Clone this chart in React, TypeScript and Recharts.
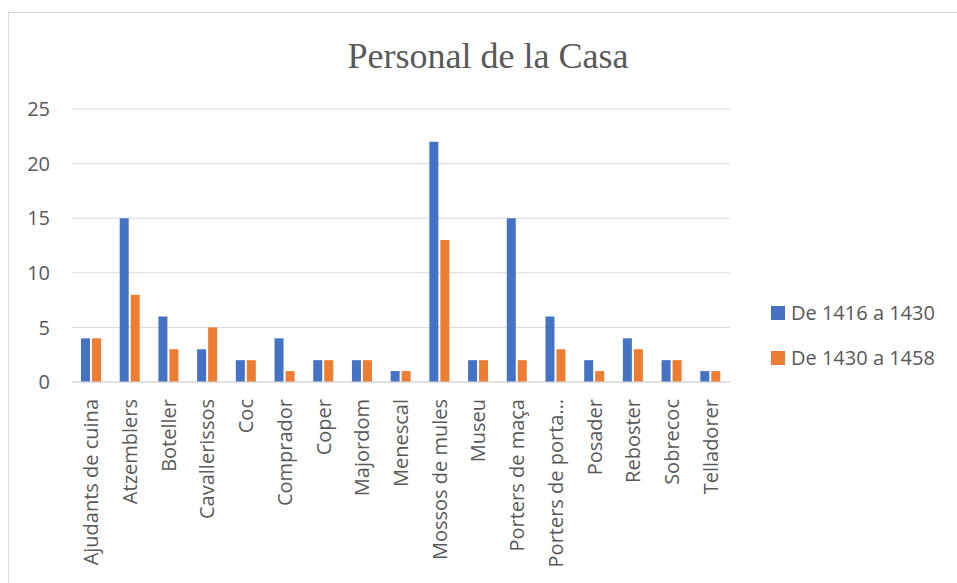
import React from 'react';
import { BarChart, Bar, XAxis, YAxis, CartesianGrid } from 'recharts';

const categories = [
  'Ajudants de cuina',
  'Atzemblers',
  'Boteller',
  'Cavallerissos',
  'Coc',
  'Comprador',
  'Coper',
  'Majordom',
  'Menescal',
  'Mossos de mules',
  'Museu',
  'Porters de maça',
  'Porters de porta…',
  'Posader',
  'Reboster',
  'Sobrecoc',
  'Telladorer',
];
const period1 = [4, 15, 6, 3, 2, 4, 2, 2, 1, 22, 2, 15, 6, 2, 4, 2, 1];
const period2 = [4, 8, 3, 5, 2, 1, 2, 2, 1, 13, 2, 2, 3, 1, 3, 2, 1];
const yTicks = [0, 5, 10, 15, 20, 25];

const seriesNames = ['De 1416 a 1430', 'De 1430 a 1458'];
const seriesColors = ['#4472C4', '#ED7D31'];

const data = categories.map((name, i) => ({ name, p1: period1[i], p2: period2[i] }));

const textColor = '#595959';
const font = '"Open Sans", sans-serif';

const CategoryTick = (props: any) => {
  const { x, y, payload } = props;
  return (
    <text
      x={x}
      y={y}
      dy="0.35em"
      transform={`rotate(-90, ${x}, ${y})`}
      textAnchor="end"
      fill={textColor}
      fontSize={20}
      fontFamily={font}
    >
      {payload.value}
    </text>
  );
};

// legend drawn as plain html so it does not shrink the plot
const LegendBox = () => (
  <div style={{ position: 'absolute', left: 771, top: 290, fontFamily: font, fontSize: 20, color: textColor }}>
    {seriesNames.map((n, i) => (
      <div key={n} style={{ display: 'flex', alignItems: 'center', height: 45 }}>
        <span style={{ width: 14, height: 14, background: seriesColors[i], display: 'inline-block' }} />
        <span style={{ marginLeft: 6, whiteSpace: 'nowrap' }}>{n}</span>
      </div>
    ))}
  </div>
);

export default function App() {
  return (
    <div style={{ position: 'absolute', left: 0, top: 0, width: 957, height: 583, overflow: 'hidden', background: '#fff' }}>
      <div
        style={{
          position: 'absolute',
          left: 8,
          top: 12,
          width: 1000,
          height: 600,
          borderLeft: '1px solid #d9d9d9',
          borderTop: '1px solid #d9d9d9',
        }}
      >
        <BarChart
          width={948}
          height={570}
          data={data}
          margin={{ top: 96, right: 227, bottom: 0, left: 0 }}
          barSize={9}
          barGap={2}
        >
          <CartesianGrid vertical={false} stroke="#d9d9d9" />
          <XAxis
            dataKey="name"
            interval={0}
            height={201}
            tickLine={false}
            tickSize={0}
            tickMargin={17}
            axisLine={{ stroke: '#d9d9d9' }}
            tick={<CategoryTick />}
          />
          <YAxis
            width={63}
            domain={[0, 25]}
            ticks={yTicks}
            axisLine={false}
            tickLine={false}
            tickMargin={16}
            tick={{ fill: textColor, fontSize: 20, fontFamily: font }}
          />
          <Bar dataKey="p1" name={seriesNames[0]} fill={seriesColors[0]} isAnimationActive={false} />
          <Bar dataKey="p2" name={seriesNames[1]} fill={seriesColors[1]} isAnimationActive={false} />
        </BarChart>
      </div>
      <LegendBox />
      <div
        style={{
          position: 'absolute',
          left: 188,
          top: 38,
          width: 600,
          textAlign: 'center',
          fontFamily: '"Liberation Serif", serif',
          fontSize: 36,
          lineHeight: '36px',
          color: textColor,
        }}
      >
        Personal de la Casa
      </div>
    </div>
  );
}
